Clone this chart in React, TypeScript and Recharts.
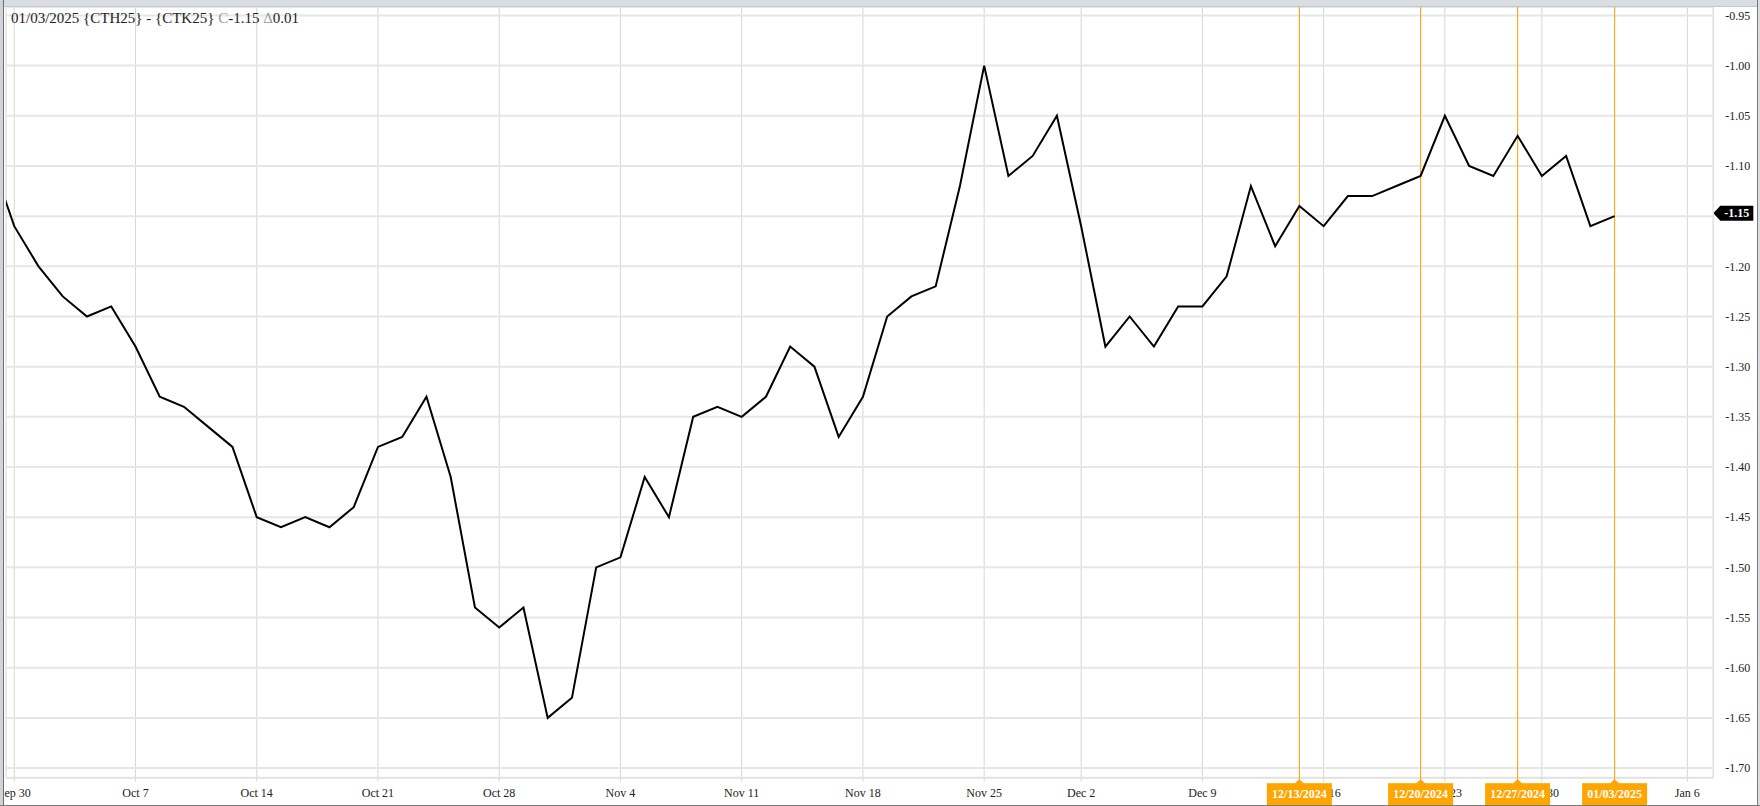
import { LineChart, Line, XAxis, YAxis, CartesianGrid, ReferenceLine } from "recharts"

const FONT = "'Liberation Serif', 'Times New Roman', serif"
const ORANGE = "#ffa500"

// trading sessions, Sep 27 is just left of the visible window
const dates = [
  "09/27/2024", "09/30/2024", "10/01/2024", "10/02/2024", "10/03/2024", "10/04/2024",
  "10/07/2024", "10/08/2024", "10/09/2024", "10/10/2024", "10/11/2024",
  "10/14/2024", "10/15/2024", "10/16/2024", "10/17/2024", "10/18/2024",
  "10/21/2024", "10/22/2024", "10/23/2024", "10/24/2024", "10/25/2024",
  "10/28/2024", "10/29/2024", "10/30/2024", "10/31/2024", "11/01/2024",
  "11/04/2024", "11/05/2024", "11/06/2024", "11/07/2024", "11/08/2024",
  "11/11/2024", "11/12/2024", "11/13/2024", "11/14/2024", "11/15/2024",
  "11/18/2024", "11/19/2024", "11/20/2024", "11/21/2024", "11/22/2024",
  "11/25/2024", "11/26/2024", "11/27/2024", "11/29/2024",
  "12/02/2024", "12/03/2024", "12/04/2024", "12/05/2024", "12/06/2024",
  "12/09/2024", "12/10/2024", "12/11/2024", "12/12/2024", "12/13/2024",
  "12/16/2024", "12/17/2024", "12/18/2024", "12/19/2024", "12/20/2024",
  "12/23/2024", "12/24/2024", "12/26/2024", "12/27/2024",
  "12/30/2024", "12/31/2024", "01/02/2025", "01/03/2025",
]

const spread = [
  -1.09, -1.16, -1.20, -1.23, -1.25, -1.24,
  -1.28, -1.33, -1.34, -1.36, -1.38,
  -1.45, -1.46, -1.45, -1.46, -1.44,
  -1.38, -1.37, -1.33, -1.41, -1.54,
  -1.56, -1.54, -1.65, -1.63, -1.50,
  -1.49, -1.41, -1.45, -1.35, -1.34,
  -1.35, -1.33, -1.28, -1.30, -1.37,
  -1.33, -1.25, -1.23, -1.22, -1.12,
  -1.00, -1.11, -1.09, -1.05,
  -1.16, -1.28, -1.25, -1.28, -1.24,
  -1.24, -1.21, -1.12, -1.18, -1.14,
  -1.16, -1.13, -1.13, -1.12, -1.11,
  -1.05, -1.10, -1.11, -1.07,
  -1.11, -1.09, -1.16, -1.15,
]

const tickSessions = [0, 5, 10, 15, 20, 25, 30, 35, 40, 44, 49, 54, 59, 63, 69]
const tickLabels = [
  "Sep 30", "Oct 7", "Oct 14", "Oct 21", "Oct 28", "Nov 4", "Nov 11", "Nov 18",
  "Nov 25", "Dec 2", "Dec 9", "Dec 16", "Dec 23", "Dec 30", "Jan 6",
]

const yTicks = [-0.95, -1.0, -1.05, -1.1, -1.15, -1.2, -1.25, -1.3, -1.35, -1.4, -1.45, -1.5, -1.55, -1.6, -1.65, -1.7]

const markerDates = ["12/13/2024", "12/20/2024", "12/27/2024", "01/03/2025"]

const data = dates.map((d, k) => ({ session: k - 1, date: d, spread: spread[k] }))
const markerSessions = markerDates.map((d) => dates.indexOf(d) - 1)
const last = spread[spread.length - 1]
const change = last - spread[spread.length - 2]

// x tick: week labels, plus the orange date tags (listed last so they sit on top)
function AxisTick({ x, y, payload }: any) {
  const m = markerSessions.indexOf(payload.value)
  if (m >= 0) {
    const bottom = y - 11
    return (
      <g>
        <line x1={x} x2={x} y1={bottom - 1} y2={bottom + 2} stroke={ORANGE} />
        <path d={`M${x - 5},${bottom + 6} L${x},${bottom + 1.5} L${x + 5},${bottom + 6} Z`} fill={ORANGE} />
        <rect x={x - 32.5} y={bottom + 5.5} width={65} height={22} fill={ORANGE} />
        <text
          x={x}
          y={bottom + 16}
          textAnchor="middle"
          dominantBaseline="central"
          fill="#fff"
          fontSize={12}
          fontWeight="bold"
          fontFamily={FONT}
        >
          {markerDates[m]}
        </text>
      </g>
    )
  }
  return (
    <text x={x} y={y} dy="0.71em" textAnchor="middle" fill="#222" fontSize={12} fontFamily={FONT}>
      {tickLabels[tickSessions.indexOf(payload.value)]}
    </text>
  )
}

function LastTag({ viewBox, text }: any) {
  const x = viewBox.x + viewBox.width
  const y = viewBox.y - 3
  return (
    <g>
      <path
        d={`M${x},${y} L${x + 7},${y - 7.5} L${x + 40},${y - 7.5} L${x + 40},${y + 7.5} L${x + 7},${y + 7.5} Z`}
        fill="#000"
      />
      <text
        x={x + 23.5}
        y={y}
        textAnchor="middle"
        dominantBaseline="central"
        fill="#fff"
        fontSize={12}
        fontWeight="bold"
        fontFamily={FONT}
      >
        {text}
      </text>
    </g>
  )
}

export default function App() {
  return (
    <div style={{ position: "relative", width: 1760, height: 806, background: "#fff", overflow: "hidden" }}>
      <style>{"body{margin:0}"}</style>
      <LineChart
        width={1760}
        height={806}
        data={data}
        margin={{ top: 7, right: 0, bottom: 0, left: 6 }}
        style={{ position: "absolute", left: 0, top: 0 }}
      >
        <CartesianGrid horizontal={false} stroke="#d6d6d6" strokeWidth={1} />
        <CartesianGrid vertical={false} stroke="#e6e6e6" strokeWidth={2} />
        <XAxis
          type="number"
          dataKey="session"
          domain={[-0.34, 70.07]}
          allowDataOverflow
          ticks={[...tickSessions, ...markerSessions]}
          interval={0}
          height={28.3}
          tickSize={4}
          tickMargin={7}
          tickLine={{ stroke: "#d6d6d6" }}
          axisLine={{ stroke: "#e2e2e2", strokeWidth: 1.5 }}
          tick={<AxisTick />}
        />
        <YAxis
          orientation="right"
          type="number"
          domain={[-1.7096, -0.9416]}
          allowDataOverflow
          ticks={yTicks}
          interval={0}
          width={46.7}
          tickSize={0}
          tickMargin={12}
          tickLine={false}
          tickFormatter={(v: number) => (Math.abs(v - last) < 1e-9 ? "" : v.toFixed(2))}
          axisLine={{ stroke: "#e2e2e2", strokeWidth: 1.5 }}
          tick={{ fontSize: 12, fill: "#222", fontFamily: FONT, textAnchor: "start" }}
        />
        {markerSessions.map((s) => (
          <ReferenceLine key={s} x={s} stroke={ORANGE} strokeWidth={1} />
        ))}
        <Line
          type="linear"
          dataKey="spread"
          stroke="#000"
          strokeWidth={2}
          dot={false}
          isAnimationActive={false}
        />
        <ReferenceLine
          y={last}
          stroke="none"
          label={(p: any) => <LastTag {...p} text={last.toFixed(2)} />}
        />
      </LineChart>
      <div
        style={{
          position: "absolute",
          left: 11,
          top: 11,
          fontFamily: FONT,
          fontSize: 15,
          lineHeight: "15px",
          color: "#222",
          whiteSpace: "nowrap",
        }}
      >
        {dates[dates.length - 1]} {"{CTH25}"} - {"{CTK25}"} <span style={{ color: "#999" }}>C</span>
        {last.toFixed(2)} <span style={{ color: "#999" }}>Δ</span>
        {change.toFixed(2)}
      </div>
      <div style={{ position: "absolute", left: 0, top: 0, width: 1760, height: 6, background: "#dadde1", borderBottom: "1px solid #c4c7cb" }} />
      <div style={{ position: "absolute", left: 0, top: 0, width: 3, height: 806, background: "#d0d3d7", borderRight: "1px solid #6e6e6e" }} />
      <div style={{ position: "absolute", left: 1757, top: 0, width: 3, height: 806, background: "#dadde1", borderLeft: "1px solid #7a7a7a" }} />
      <div style={{ position: "absolute", left: 0, top: 805, width: 1760, height: 1, background: "#7a7a7a" }} />
    </div>
  )
}
